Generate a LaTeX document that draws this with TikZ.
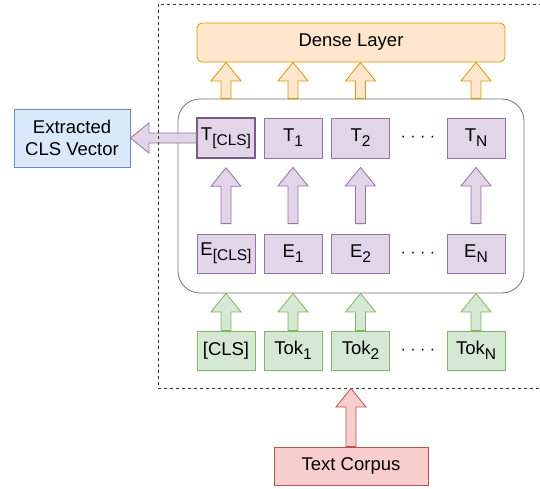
\documentclass[tikz,border=0pt]{standalone}
\usepackage{fontspec}
\setmainfont{Liberation Sans}
\usepackage{tikz}
\usetikzlibrary{calc}
\definecolor{orangefill}{HTML}{FFE6CC}
\definecolor{orangeline}{HTML}{D79B00}
\definecolor{purplefill}{HTML}{E1D5E7}
\definecolor{purpleline}{HTML}{9673A6}
\definecolor{greenfill}{HTML}{D5E8D4}
\definecolor{greenline}{HTML}{82B366}
\definecolor{redfill}{HTML}{F8CECC}
\definecolor{redline}{HTML}{B85450}
\definecolor{bluefill}{HTML}{DAE8FC}
\definecolor{blueline}{HTML}{6C8EBF}
\newcommand{\tsub}[1]{\raisebox{-5pt}{\fontsize{15.5}{16}\selectfont #1}}
\tikzset{
  fat/.style={to path={let \p1=(\tikztostart), \p2=(\tikztotarget),
    \n1={veclen(\x2-\x1,\y2-\y1)}, \n2={(\x2-\x1)/\n1}, \n3={(\y2-\y1)/\n1} in
    ({\x1-5*\n3},{\y1+5*\n2}) -- ({\x2-18.5*\n2-5*\n3},{\y2-18.5*\n3+5*\n2})
    -- ({\x2-18.5*\n2-15*\n3},{\y2-18.5*\n3+15*\n2}) -- (\x2,\y2)
    -- ({\x2-18.5*\n2+15*\n3},{\y2-18.5*\n3-15*\n2})
    -- ({\x2-18.5*\n2+5*\n3},{\y2-18.5*\n3-5*\n2})
    -- ({\x1+5*\n3},{\y1-5*\n2}) -- cycle}},
  cell/.style={minimum width=58pt, inner sep=0pt, line width=0.8pt},
  tbox/.style={cell, draw=purpleline, fill=purplefill, minimum height=40pt},
  ebox/.style={cell, draw=purpleline, fill=purplefill, minimum height=39pt},
  tokbox/.style={cell, draw=greenline, fill=greenfill, minimum height=39pt},
  dots/.style={font=\fontsize{16}{16}\selectfont}
}
\begin{document}
\begin{tikzpicture}[x=1pt,y=-1pt,font=\fontsize{18.5}{22.5}\selectfont]
\useasboundingbox (0,0) rectangle (540,488);

\node[draw=orangeline, fill=orangefill, rounded corners=5pt, line width=0.8pt,
  minimum width=308pt, minimum height=39pt] (dense) at (351,42.5) {Dense Layer};
\node[draw=black!55, fill=white, rounded corners=22pt, line width=0.8pt,
  minimum width=346pt, minimum height=194pt] (enc) at (351,196) {};

\node[tbox, draw=purpleline!80!black, line width=1.6pt] (tcls) at (226,138) {T\tsub{[CLS]}};
\node[tbox] (t1) at (293,138) {T\tsub{1}};
\node[tbox] (t2) at (360.5,138) {T\tsub{2}};
\node[tbox] (tn) at (476,138) {T\tsub{N}};
\node[dots] (tdots) at (418,139) {· · · ·};

\node[ebox] (ecls) at (226,253.5) {E\tsub{[CLS]}};
\node[ebox] (e1) at (293,253.5) {E\tsub{1}};
\node[ebox] (e2) at (360.5,253.5) {E\tsub{2}};
\node[ebox] (en) at (476,253.5) {E\tsub{N}};
\node[dots] (edots) at (418,254.5) {· · · ·};

\node[tokbox] (kcls) at (226,350.5) {[CLS]};
\node[tokbox] (k1) at (293,350.5) {Tok\tsub{1}};
\node[tokbox] (k2) at (360.5,350.5) {Tok\tsub{2}};
\node[tokbox] (kn) at (476,350.5) {Tok\tsub{N}};
\node[dots] (kdots) at (418,351.5) {· · · ·};

\node[draw=blueline, fill=bluefill, line width=0.8pt, align=center,
  minimum width=116pt, minimum height=58pt, inner sep=0pt] (cls) at (72,138) {Extracted\\CLS Vector};
\node[draw=redline, fill=redfill, line width=0.8pt,
  minimum width=154pt, minimum height=38pt] (corpus) at (351,466) {Text Corpus};

\draw[fat, draw=orangeline, fill=orangefill, line width=0.8pt] (enc.north -| tcls) to (dense.south -| tcls);
\draw[fat, draw=orangeline, fill=orangefill, line width=0.8pt] (enc.north -| t1) to (dense.south -| t1);
\draw[fat, draw=orangeline, fill=orangefill, line width=0.8pt] (enc.north -| t2) to (dense.south -| t2);
\draw[fat, draw=orangeline, fill=orangefill, line width=0.8pt] (enc.north -| tn) to (dense.south -| tn);

\draw[fat, draw=purpleline, fill=purplefill, line width=0.8pt] ([yshift=10pt]ecls.north) to ([yshift=-9pt]tcls.south);
\draw[fat, draw=purpleline, fill=purplefill, line width=0.8pt] ([yshift=10pt]e1.north) to ([yshift=-9pt]t1.south);
\draw[fat, draw=purpleline, fill=purplefill, line width=0.8pt] ([yshift=10pt]e2.north) to ([yshift=-9pt]t2.south);
\draw[fat, draw=purpleline, fill=purplefill, line width=0.8pt] ([yshift=10pt]en.north) to ([yshift=-9pt]tn.south);

\draw[fat, draw=greenline, fill=greenfill, line width=0.8pt] (kcls.north) to (enc.south -| kcls);
\draw[fat, draw=greenline, fill=greenfill, line width=0.8pt] (k1.north) to (enc.south -| k1);
\draw[fat, draw=greenline, fill=greenfill, line width=0.8pt] (k2.north) to (enc.south -| k2);
\draw[fat, draw=greenline, fill=greenfill, line width=0.8pt] (kn.north) to (enc.south -| kn);

\draw[fat, draw=purpleline, fill=purplefill, line width=0.8pt] (tcls.west) to (cls.east);

\node[draw=black!80, dash pattern=on 3pt off 3pt, line width=0.8pt,
  minimum width=402pt, minimum height=384pt] (frame) at (359,196) {};
\draw[fat, draw=redline, fill=redfill, line width=0.8pt] (corpus.north) to (frame.south -| corpus);
\end{tikzpicture}
\end{document}
